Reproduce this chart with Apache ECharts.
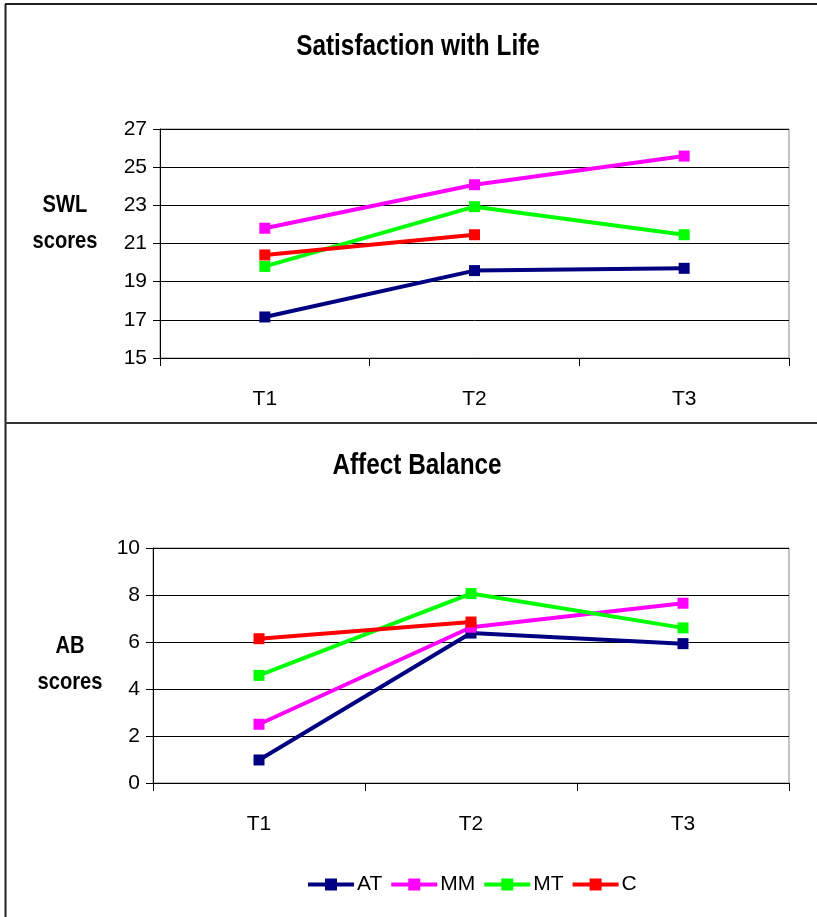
<!DOCTYPE html>
<html>
<head>
<meta charset="utf-8">
<title>Satisfaction with Life / Affect Balance</title>
<script src="https://cdn.jsdelivr.net/npm/echarts@6/dist/echarts.min.js"></script>
<style>
  html, body { margin: 0; padding: 0; background: #fff; }
  #chart { width: 817px; height: 917px; }
</style>
</head>
<body>
<div id="chart"></div>
<script>
// Measurement occasions
const times = ['T1', 'T2', 'T3'];

// Satisfaction with Life scores per group
const swlAT = [17.15, 19.58, 19.7];
const swlMM = [21.8, 24.08, 25.58];
const swlMT = [19.8, 22.93, 21.46];
const swlC  = [20.4, 21.46, null];

// Affect Balance scores per group
const abAT = [0.98, 6.38, 5.93];
const abMM = [2.5, 6.63, 7.65];
const abMT = [4.58, 8.06, 6.6];
const abC  = [6.14, 6.85, null];

const groups = ['AT', 'MM', 'MT', 'C'];
const colors = { AT: '#000080', MM: '#FF00FF', MT: '#00FF00', C: '#FF0000' };

const FONT = '"Liberation Sans", Arial, sans-serif';
// condensed look for headings
const NARROW = 0.84;

function makeSeries(name, data, idx) {
  return {
    name: name,
    type: 'line',
    xAxisIndex: idx,
    yAxisIndex: idx,
    data: data,
    symbol: 'rect',
    symbolSize: 11,
    showSymbol: true,
    connectNulls: false,
    lineStyle: { width: 4, color: colors[name] },
    itemStyle: { color: colors[name] },
    emphasis: { disabled: true },
    animation: false
  };
}

function xAxis(idx) {
  return {
    type: 'category',
    gridIndex: idx,
    data: times,
    boundaryGap: true,
    axisLine: { show: true, lineStyle: { color: '#000', width: 1 } },
    axisTick: { show: true, length: 8, inside: false, lineStyle: { color: '#000' } },
    axisLabel: { color: '#000', fontFamily: FONT, fontSize: 21, margin: 31 },
    splitLine: { show: false }
  };
}

function yAxis(idx, min, max) {
  return {
    type: 'value',
    gridIndex: idx,
    min: min,
    max: max,
    interval: 2,
    axisLine: { show: true, lineStyle: { color: '#000', width: 1 } },
    axisTick: { show: true, length: 7, inside: false, lineStyle: { color: '#000' } },
    axisLabel: { color: '#000', fontFamily: FONT, fontSize: 21, margin: 13 },
    splitLine: { show: true, lineStyle: { color: '#000', width: 1 } }
  };
}

function heading(text, x, y, size) {
  return {
    type: 'text', x: x, y: y, scaleX: NARROW, silent: true,
    style: { text: text, fontFamily: FONT, fontSize: size, fontWeight: 'bold', fill: '#000',
             textAlign: 'center', textVerticalAlign: 'middle' }
  };
}

const chart = echarts.init(document.getElementById('chart'), null, { renderer: 'canvas' });

const option = {
  backgroundColor: '#fff',
  animation: false,
  grid: [
    { left: 160, top: 129, width: 629, height: 229, show: true, borderColor: '#888', borderWidth: 1, backgroundColor: 'transparent' },
    { left: 153, top: 548, width: 636, height: 235, show: true, borderColor: '#888', borderWidth: 1, backgroundColor: 'transparent' }
  ],
  xAxis: [xAxis(0), xAxis(1)],
  yAxis: [yAxis(0, 15, 27), yAxis(1, 0, 10)],
  legend: {
    data: groups,
    left: 301,
    top: 869,
    itemWidth: 46,
    itemHeight: 15,
    itemGap: 7,
    selectedMode: false,
    lineStyle: { width: 4 },
    textStyle: { fontFamily: FONT, fontSize: 21, color: '#000', padding: [0, 0, 0, -2] }
  },
  graphic: [
    // panel frames
    { type: 'line', shape: { x1: 5, y1: 4, x2: 817, y2: 4 }, style: { stroke: '#222', lineWidth: 2 }, silent: true },
    { type: 'line', shape: { x1: 5.5, y1: 4, x2: 5.5, y2: 917 }, style: { stroke: '#222', lineWidth: 2 }, silent: true },
    { type: 'line', shape: { x1: 5, y1: 423, x2: 817, y2: 423 }, style: { stroke: '#333', lineWidth: 2 }, silent: true },
    // chart titles
    heading('Satisfaction with Life', 418, 47, 29),
    heading('Affect Balance', 417, 466, 29),
    // y-axis captions
    heading('SWL', 65, 205, 24),
    heading('scores', 65, 241, 24),
    heading('AB', 70, 646, 24),
    heading('scores', 70, 682, 24)
  ],
  series: [
    makeSeries('AT', swlAT, 0),
    makeSeries('MM', swlMM, 0),
    makeSeries('MT', swlMT, 0),
    makeSeries('C', swlC, 0),
    makeSeries('AT', abAT, 1),
    makeSeries('MM', abMM, 1),
    makeSeries('MT', abMT, 1),
    makeSeries('C', abC, 1)
  ]
};

chart.setOption(option);
</script>
</body>
</html>
